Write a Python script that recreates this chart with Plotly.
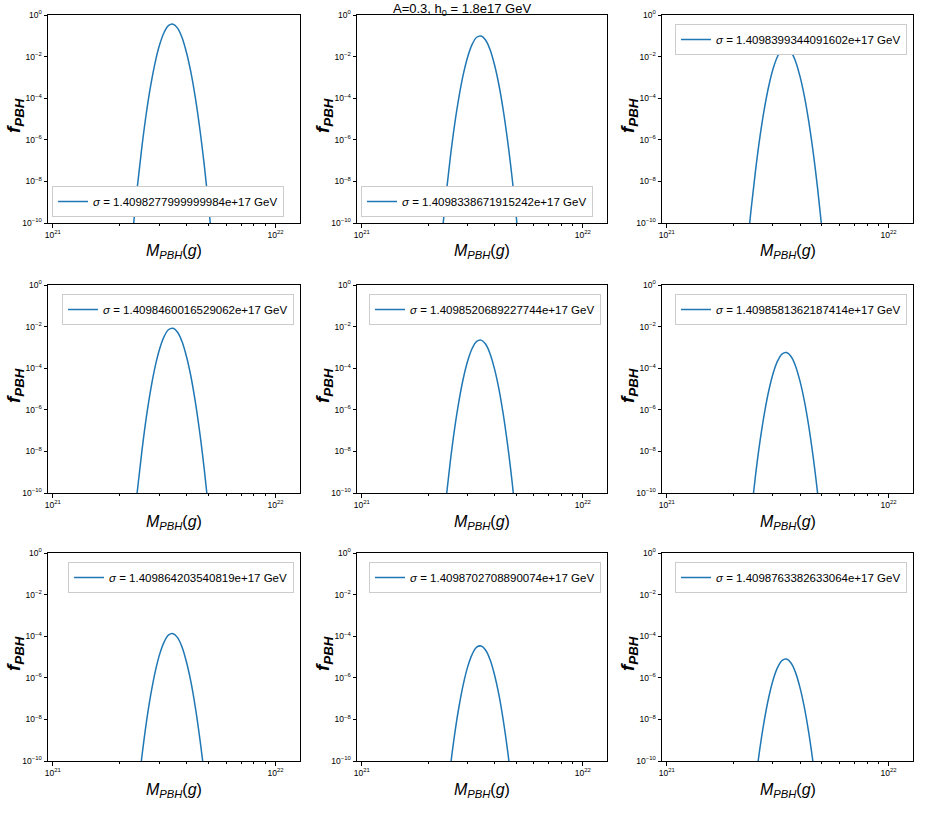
import plotly.graph_objects as go
from plotly.subplots import make_subplots

W, H = 926, 817
FONT = "Liberation Sans, Arial, sans-serif"
BLUE = "#1f77b4"

# 质量取样点 (g)
M_PBH = [2.291e21, 2.399e21, 2.512e21, 2.630e21, 2.754e21, 2.884e21, 3.020e21,
         3.162e21, 3.311e21, 3.467e21, 3.631e21, 3.802e21, 3.981e21, 4.169e21,
         4.365e21, 4.571e21, 4.786e21, 5.012e21, 5.248e21]

# log10(f_PBH)
LOGF_1 = [-10.32, -8.19, -6.32, -4.70, -3.35, -2.25, -1.41, -0.83, -0.50, -0.44,
          -0.63, -1.08, -1.80, -2.76, -3.99, -5.48, -7.22, -9.22, -11.49]
LOGF_2 = [-10.89, -8.76, -6.89, -5.27, -3.92, -2.82, -1.98, -1.40, -1.07, -1.01,
          -1.20, -1.65, -2.37, -3.33, -4.56, -6.05, -7.79, -9.79, -12.06]
LOGF_3 = [-11.46, -9.33, -7.46, -5.84, -4.49, -3.39, -2.55, -1.97, -1.64, -1.58,
          -1.77, -2.22, -2.94, -3.90, -5.13, -6.62, -8.36, -10.36, -12.63]
LOGF_4 = [-11.96, -9.83, -7.96, -6.34, -4.99, -3.89, -3.05, -2.47, -2.14, -2.08,
          -2.27, -2.72, -3.44, -4.40, -5.63, -7.12, -8.86, -10.86, -13.13]
LOGF_5 = [-12.53, -10.40, -8.53, -6.91, -5.56, -4.46, -3.62, -3.04, -2.71, -2.65,
          -2.84, -3.29, -4.01, -4.97, -6.20, -7.69, -9.43, -11.43, -13.70]
LOGF_6 = [-13.13, -11.00, -9.13, -7.51, -6.16, -5.06, -4.22, -3.64, -3.31, -3.25,
          -3.44, -3.89, -4.61, -5.57, -6.80, -8.29, -10.03, -12.03, -14.30]
LOGF_7 = [-13.76, -11.63, -9.76, -8.14, -6.79, -5.69, -4.85, -4.27, -3.94, -3.88,
          -4.07, -4.52, -5.24, -6.20, -7.43, -8.92, -10.66, -12.66, -14.93]
LOGF_8 = [-14.35, -12.22, -10.35, -8.73, -7.38, -6.28, -5.44, -4.86, -4.53, -4.47,
          -4.66, -5.11, -5.83, -6.79, -8.02, -9.51, -11.25, -13.25, -15.52]
LOGF_9 = [-14.98, -12.85, -10.98, -9.36, -8.01, -6.91, -6.07, -5.49, -5.16, -5.10,
          -5.29, -5.74, -6.46, -7.42, -8.65, -10.14, -11.88, -13.88, -16.15]

SIGMAS = ["1.4098277999999984e+17", "1.4098338671915242e+17", "1.4098399344091602e+17",
          "1.4098460016529062e+17", "1.4098520689227744e+17", "1.4098581362187414e+17",
          "1.409864203540819e+17", "1.4098702708890074e+17", "1.4098763382633064e+17"]

X_TICKS = [1e21, 1e22]
X_TICK_TEXT = ["10<sup>21</sup>", "10<sup>22</sup>"]
X_MINOR = [2e21, 3e21, 4e21, 5e21, 6e21, 7e21, 8e21, 9e21]
Y_TICKS = [1, 1e-2, 1e-4, 1e-6, 1e-8, 1e-10]
Y_TICK_TEXT = ["10<sup>0</sup>", "10<sup>−2</sup>", "10<sup>−4</sup>",
               "10<sup>−6</sup>", "10<sup>−8</sup>", "10<sup>−10</sup>"]

TITLE = "A=0.3, h<sub>0</sub> = 1.8e17 GeV"

all_logf = [LOGF_1, LOGF_2, LOGF_3, LOGF_4, LOGF_5, LOGF_6, LOGF_7, LOGF_8, LOGF_9]

# 子图像素位置
cols_px = [(48, 300), (357, 607), (662, 913)]
rows_px = [(15, 223), (285, 493), (553, 761)]


def px_x(p):
    return p / W


def px_y(p):
    return 1 - p / H


fig = make_subplots(rows=3, cols=3)

annotations = []
for i, logf in enumerate(all_logf):
    r, c = i // 3 + 1, i % 3 + 1
    x0, x1 = cols_px[c - 1]
    y0, y1 = rows_px[r - 1]
    leg = "legend" if i == 0 else f"legend{i + 1}"
    fig.add_trace(
        go.Scatter(
            x=M_PBH,
            y=[10 ** v for v in logf],
            mode="lines",
            line=dict(color=BLUE, width=1.5, shape="spline"),
            name=f"<i>σ</i> = {SIGMAS[i]} GeV",
            legend=leg,
            showlegend=True,
        ),
        row=r, col=c
    )
    fig.update_xaxes(domain=[px_x(x0), px_x(x1)], row=r, col=c)
    fig.update_yaxes(domain=[px_y(y1), px_y(y0)], row=r, col=c)

    # 图例位置：前两个在左下，其余在右上
    if i < 2:
        ldict = dict(x=px_x(x0 + 4), y=px_y(y1 - 6), xanchor="left", yanchor="bottom")
    else:
        ldict = dict(x=px_x(x1 - 6), y=px_y(y0 + 9), xanchor="right", yanchor="top")
    ldict.update(bgcolor="white", bordercolor="#cccccc", borderwidth=1,
                 font=dict(family=FONT, size=11.5, color="black"), itemwidth=30)
    fig.update_layout(**{leg: ldict})

    # 轴标题
    annotations.append(dict(
        x=px_x((x0 + x1) / 2), y=px_y(y1 + 29), xref="paper", yref="paper",
        text="<i>M</i><sub><i>PBH</i></sub>(<i>g</i>)", showarrow=False,
        font=dict(family=FONT, size=16, color="black"), xanchor="center", yanchor="middle"
    ))
    annotations.append(dict(
        x=px_x(x0 - 33), y=px_y((y0 + y1) / 2 - 3), xref="paper", yref="paper",
        text="<b><i>f</i></b><sub><b><i>PBH</i></b></sub>", showarrow=False, textangle=-90,
        font=dict(family=FONT, size=19, color="black"), xanchor="center", yanchor="middle"
    ))

annotations.append(dict(
    x=px_x(462), y=1, xref="paper", yref="paper", text=TITLE, showarrow=False,
    font=dict(family=FONT, size=13, color="black"), xanchor="center", yanchor="top",
    borderpad=0
))

fig.update_xaxes(
    type="log", range=[20.978, 22.11], automargin=False,
    tickmode="array", tickvals=X_TICKS, ticktext=X_TICK_TEXT,
    ticks="outside", ticklen=3.5, tickwidth=1, tickcolor="black",
    minor=dict(tickmode="array", tickvals=X_MINOR, ticks="outside", ticklen=2,
               tickwidth=0.8, tickcolor="black", showgrid=False),
    showline=True, mirror=True, linecolor="black", linewidth=1,
    showgrid=False, zeroline=False,
    tickfont=dict(family=FONT, size=8.5, color="black"),
)
fig.update_yaxes(
    type="log", range=[-10, 0], automargin=False,
    tickmode="array", tickvals=Y_TICKS, ticktext=Y_TICK_TEXT,
    ticks="outside", ticklen=3.5, tickwidth=1, tickcolor="black",
    showline=True, mirror=True, linecolor="black", linewidth=1,
    showgrid=False, zeroline=False,
    tickfont=dict(family=FONT, size=8.5, color="black"),
)

fig.update_layout(
    width=W, height=H,
    margin=dict(l=0, r=0, t=0, b=0, autoexpand=False),
    paper_bgcolor="white", plot_bgcolor="white",
    annotations=annotations,
    font=dict(family=FONT),
)

# 去掉页面 body 的默认外边距，让图贴满窗口
fig.write_html("out.html", config={"displayModeBar": False},
               post_script="document.body.style.margin='0';")
